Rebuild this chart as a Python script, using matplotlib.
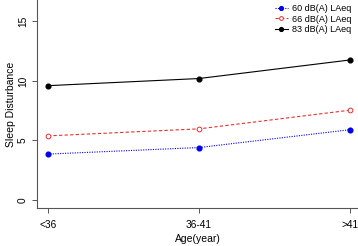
import matplotlib
matplotlib.use("Agg")
import matplotlib.pyplot as plt

# ===== Data =====
AGE_GROUPS = ["<36", "36-41", ">41"]
SERIES_LABELS = ["60 dB(A) LAeq", "66 dB(A) LAeq", "83 dB(A) LAeq"]
SLEEP_60 = [3.85, 4.4, 5.9]
SLEEP_66 = [5.38, 5.97, 7.54]
SLEEP_83 = [9.6, 10.2, 11.76]

plt.rcParams["font.family"] = ["Liberation Sans", "DejaVu Sans"]

fig = plt.figure(figsize=(3.58, 2.46), dpi=100)
ax = fig.add_axes([0.103, 0.155, 0.897, 0.845])

x = list(range(1, len(AGE_GROUPS) + 1))

ax.plot(x, SLEEP_60, color="#0000ee", linestyle=(0, (1, 1.2)), linewidth=0.8,
        marker="o", markersize=3.4, markerfacecolor="#0000ee",
        markeredgecolor="#0000ee", label=SERIES_LABELS[0])
ax.plot(x, SLEEP_66, color="#e83030", linestyle=(0, (3, 2)), linewidth=0.8,
        marker="o", markersize=3.4, markerfacecolor="white",
        markeredgecolor="#e83030", markeredgewidth=0.7, label=SERIES_LABELS[1])
ax.plot(x, SLEEP_83, color="black", linestyle="-", linewidth=0.8,
        marker="o", markersize=3.4, markerfacecolor="black",
        markeredgecolor="black", label=SERIES_LABELS[2])

ax.set_xlim(0.927, 3.053)
ax.set_ylim(-0.67, 16.8)
ax.set_xticks(x)
ax.set_xticklabels(AGE_GROUPS)
ax.set_yticks([0, 5, 10, 15])
ax.set_yticklabels(["0", "5", "10", "15"], rotation=90, va="center")

for side in ("top", "right"):
    ax.spines[side].set_visible(False)
for side in ("left", "bottom"):
    ax.spines[side].set_color("#555555")
    ax.spines[side].set_linewidth(0.8)

ax.tick_params(axis="both", direction="out", length=3.5, width=0.7,
               color="#555555", labelsize=7.3)
ax.tick_params(axis="x", pad=5)
ax.tick_params(axis="y", pad=3)

ax.set_xlabel("Age(year)", fontsize=7.5, labelpad=3)
ax.set_ylabel("Sleep Disturbance", fontsize=7.5, labelpad=1)

ax.legend(loc="upper right", bbox_to_anchor=(1.0, 1.01), frameon=False,
          fontsize=6.5, handlelength=1.4, handletextpad=0.5,
          labelspacing=0.15, borderpad=0.2, markerscale=0.8)

fig.savefig("out.png", dpi=100)
